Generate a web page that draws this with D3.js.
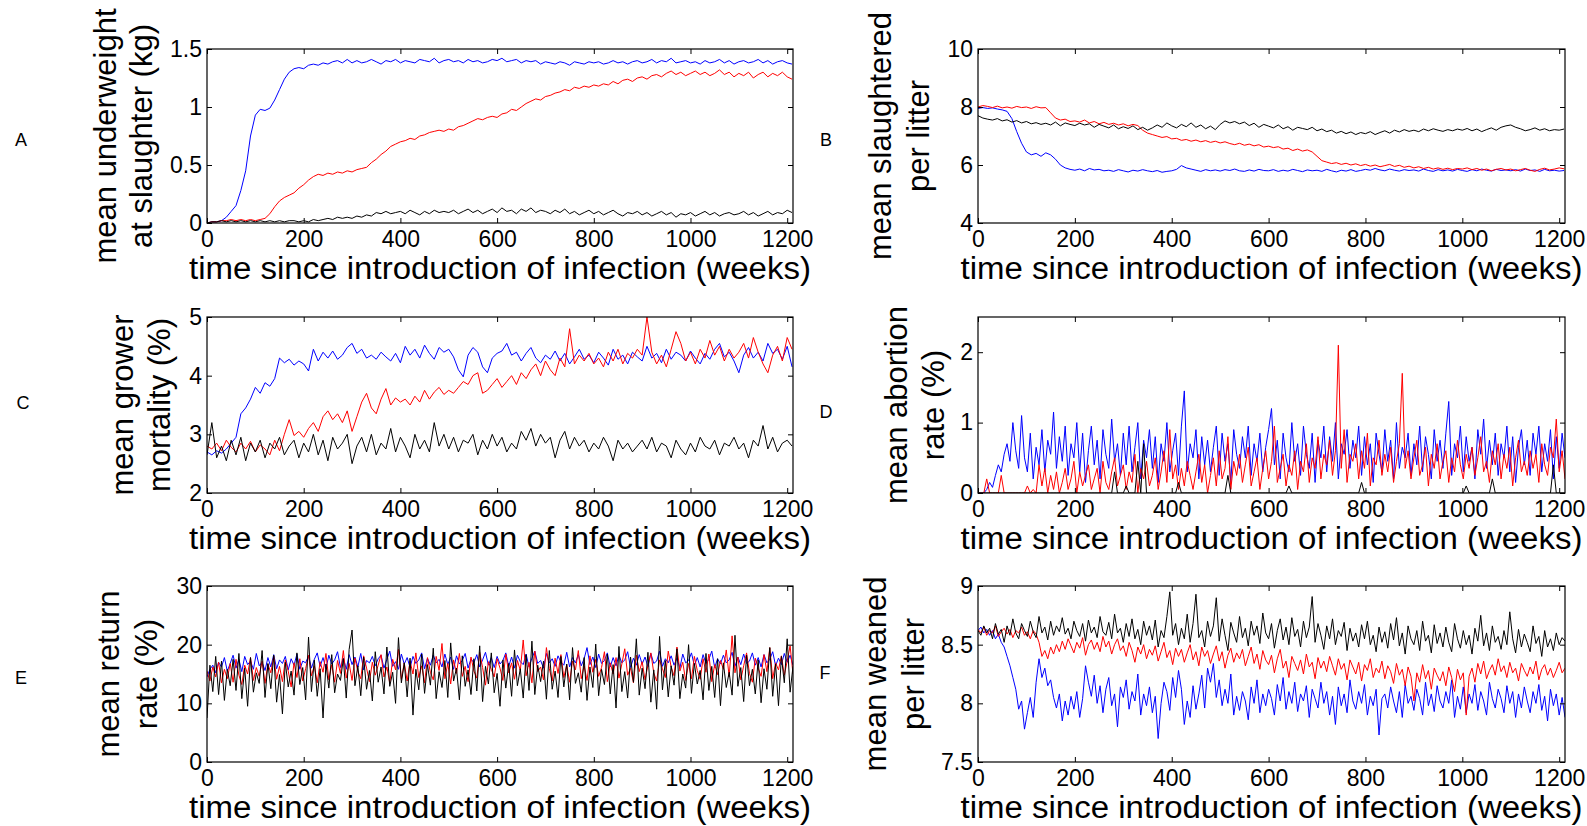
<!DOCTYPE html>
<html>
<head>
<meta charset="utf-8">
<script src="https://cdn.jsdelivr.net/npm/d3@7"></script>
<style>
  body { margin: 0; background: #fff; }
  text { font-family: "Liberation Sans", Arial, sans-serif; fill: #000; }
  .axis path { display: none; }
  .axis line { stroke: #000; stroke-width: 1; }
  .series { fill: none; stroke-width: 1; }
</style>
</head>
<body>
<div class="chart"></div>
<script>
// x axis shared by all panels (weeks)
var xMax = 1212;
var xTicks = [0, 200, 400, 600, 800, 1000, 1200];
var xLabel = "time since introduction of infection (weeks)";
var colors = ["#0000ff", "#ff0000", "#000000"];

// sample interval (weeks) of the typed series
var stepA = 10, stepB = 10, stepC = 10, stepD = 6, stepE = 6, stepF = 6;

// A: mean underweight at slaughter (kg)
var aBlue = [0.00,0.01,0.01,0.02,0.05,0.10,0.15,0.28,0.45,0.75,
  0.93,0.98,0.97,0.99,1.06,1.15,1.24,1.30,1.33,1.34,
  1.33,1.36,1.37,1.36,1.38,1.37,1.39,1.40,1.38,1.41,1.38,
  1.40,1.38,1.39,1.41,1.39,1.37,1.40,1.39,1.41,1.38,
  1.40,1.39,1.38,1.41,1.40,1.39,1.42,1.38,1.40,1.41,
  1.39,1.40,1.38,1.41,1.39,1.40,1.38,1.39,1.41,1.40,
  1.42,1.39,1.40,1.41,1.38,1.40,1.39,1.40,1.37,1.39,
  1.38,1.37,1.39,1.38,1.36,1.39,1.38,1.37,1.39,1.38,
  1.39,1.37,1.38,1.40,1.38,1.39,1.37,1.39,1.40,1.38,
  1.39,1.41,1.38,1.40,1.39,1.42,1.38,1.39,1.40,1.38,
  1.39,1.37,1.40,1.38,1.39,1.41,1.38,1.40,1.37,1.39,
  1.40,1.38,1.39,1.41,1.38,1.40,1.37,1.39,1.40,1.38,
  1.37];
var aRed = [0.00,0.01,0.01,0.02,0.02,0.03,0.02,0.03,0.02,0.03,
  0.02,0.03,0.04,0.08,0.14,0.19,0.22,0.24,0.26,0.30,
  0.33,0.37,0.40,0.42,0.41,0.43,0.42,0.44,0.43,0.45,
  0.44,0.46,0.47,0.48,0.52,0.55,0.59,0.62,0.66,0.68,
  0.70,0.71,0.73,0.72,0.75,0.76,0.78,0.79,0.80,0.79,
  0.81,0.80,0.83,0.84,0.86,0.88,0.90,0.89,0.91,0.92,
  0.91,0.94,0.95,0.98,0.97,1.00,1.03,1.05,1.07,1.06,
  1.09,1.10,1.12,1.13,1.15,1.14,1.17,1.16,1.18,1.17,
  1.19,1.18,1.20,1.19,1.22,1.20,1.23,1.24,1.22,1.25,
  1.26,1.24,1.27,1.28,1.26,1.29,1.31,1.28,1.30,1.27,
  1.29,1.31,1.28,1.30,1.27,1.29,1.32,1.28,1.30,1.26,
  1.29,1.27,1.30,1.25,1.28,1.30,1.26,1.29,1.27,1.30,
  1.26,1.24];
var aBlack = [0.00,0.01,0.01,0.02,0.01,0.02,0.01,0.02,0.01,0.02,
  0.01,0.02,0.01,0.02,0.01,0.02,0.01,0.02,0.02,0.01,
  0.02,0.01,0.03,0.02,0.03,0.04,0.03,0.05,0.04,0.05,
  0.04,0.06,0.05,0.07,0.06,0.09,0.08,0.10,0.08,0.09,
  0.10,0.08,0.11,0.09,0.07,0.10,0.08,0.11,0.09,0.10,
  0.09,0.11,0.08,0.10,0.12,0.09,0.11,0.08,0.10,0.12,
  0.09,0.13,0.10,0.11,0.08,0.12,0.10,0.13,0.09,0.11,
  0.10,0.08,0.11,0.09,0.12,0.08,0.10,0.07,0.09,0.11,
  0.08,0.10,0.07,0.09,0.11,0.08,0.06,0.09,0.08,0.10,
  0.07,0.09,0.06,0.08,0.10,0.07,0.09,0.05,0.08,0.07,
  0.09,0.06,0.08,0.10,0.07,0.09,0.06,0.08,0.09,0.07,
  0.08,0.10,0.07,0.09,0.06,0.08,0.10,0.07,0.09,0.08,
  0.11,0.09];

// B: mean slaughtered per litter
var bBlue = [7.95,7.98,7.95,7.97,7.93,7.90,7.85,7.60,7.15,6.75,
  6.45,6.35,6.40,6.30,6.42,6.35,6.20,6.00,5.90,5.85,
  5.82,5.86,5.80,5.88,5.83,5.85,5.80,5.82,5.78,5.84,
  5.80,5.76,5.82,5.79,5.84,5.80,5.77,5.81,5.75,5.78,
  5.80,5.85,5.98,5.90,5.86,5.82,5.78,5.84,5.80,5.83,
  5.79,5.84,5.81,5.86,5.80,5.78,5.83,5.79,5.85,5.81,
  5.80,5.84,5.78,5.82,5.79,5.85,5.81,5.77,5.83,5.80,
  5.82,5.78,5.85,5.80,5.76,5.82,5.79,5.84,5.78,5.81,
  5.85,5.82,5.88,5.83,5.80,5.86,5.82,5.79,5.84,5.81,
  5.83,5.79,5.86,5.81,5.78,5.84,5.80,5.83,5.79,5.85,
  5.81,5.78,5.84,5.80,5.86,5.82,5.79,5.85,5.81,5.83,
  5.80,5.84,5.79,5.86,5.81,5.83,5.78,5.85,5.80,5.82,
  5.79,5.81];
var bRed = [8.00,8.05,8.02,7.98,8.03,7.97,8.00,7.96,8.02,7.98,
  8.00,7.95,8.01,7.97,7.98,7.80,7.62,7.55,7.58,7.50,
  7.52,7.48,7.55,7.45,7.50,7.42,7.47,7.40,7.44,7.38,
  7.42,7.35,7.40,7.36,7.20,7.10,7.05,7.00,6.95,6.98,
  6.90,6.92,6.85,6.88,6.82,6.86,6.80,6.84,6.78,6.82,
  6.76,6.80,6.74,6.70,6.75,6.68,6.72,6.66,6.70,6.62,
  6.65,6.60,6.63,6.55,6.58,6.50,6.55,6.48,6.52,6.45,
  6.30,6.15,6.10,6.05,6.08,6.02,6.06,6.00,6.04,5.98,
  6.02,5.96,6.00,5.94,5.98,6.02,5.95,5.99,5.92,5.96,
  5.90,5.94,5.88,5.92,5.86,5.90,5.85,5.89,5.84,5.88,
  5.86,5.90,5.84,5.88,5.82,5.86,5.80,5.85,5.88,5.83,
  5.86,5.80,5.84,5.88,5.82,5.78,5.85,5.89,5.83,5.86,
  5.90,5.87];
var bBlack = [7.70,7.62,7.58,7.55,7.60,7.52,7.56,7.48,7.53,7.45,
  7.50,7.42,7.46,7.40,7.44,7.38,7.48,7.35,7.45,7.40,
  7.36,7.44,7.38,7.42,7.30,7.40,7.34,7.28,7.38,7.25,
  7.32,7.26,7.35,7.22,7.30,7.20,7.28,7.38,7.30,7.45,
  7.35,7.28,7.40,7.32,7.45,7.30,7.38,7.25,7.34,7.22,
  7.40,7.52,7.45,7.50,7.42,7.48,7.36,7.44,7.30,7.40,
  7.34,7.28,7.38,7.25,7.32,7.20,7.30,7.26,7.22,7.30,
  7.18,7.24,7.15,7.20,7.10,7.16,7.08,7.14,7.05,7.12,
  7.08,7.15,7.05,7.12,7.18,7.10,7.20,7.14,7.22,7.16,
  7.20,7.15,7.24,7.18,7.25,7.20,7.16,7.22,7.18,7.24,
  7.20,7.26,7.18,7.24,7.15,7.22,7.28,7.20,7.30,7.35,
  7.38,7.30,7.25,7.18,7.22,7.28,7.20,7.25,7.18,7.22,
  7.20,7.24];

// C: mean grower mortality (%)
var cBlue = [2.70,2.65,2.72,2.68,2.75,2.85,2.95,3.35,3.45,3.60,
  3.80,3.70,3.88,3.82,3.95,4.30,4.22,4.28,4.18,4.25,
  4.20,4.08,4.45,4.25,4.40,4.30,4.42,4.28,4.35,4.48,
  4.55,4.38,4.45,4.30,4.35,4.28,4.40,4.32,4.25,4.38,
  4.22,4.50,4.35,4.45,4.30,4.52,4.38,4.28,4.48,4.40,
  4.45,4.32,4.10,3.98,4.35,4.48,4.40,4.15,4.05,4.30,
  4.38,4.42,4.55,4.35,4.40,4.25,4.38,4.48,4.30,4.22,
  4.35,4.28,4.42,4.25,4.38,4.20,4.32,4.45,4.28,4.35,
  4.22,4.40,4.30,4.18,4.45,4.28,4.35,4.20,4.40,4.32,
  4.25,4.50,4.30,4.38,4.22,4.45,4.28,4.40,4.35,4.25,
  4.42,4.30,4.20,4.38,4.28,4.45,4.55,4.32,4.40,4.25,
  4.05,4.35,4.48,4.30,4.40,4.25,4.55,4.38,4.45,4.28,
  4.50,4.15];
var cRed = [2.80,2.75,2.85,2.72,2.90,2.78,2.70,2.85,2.75,2.88,
  2.70,2.82,2.75,2.65,2.90,2.72,3.00,3.25,2.98,3.05,
  2.95,3.10,3.20,3.05,3.30,3.40,3.25,3.35,3.20,3.40,
  3.05,3.30,3.55,3.70,3.45,3.35,3.60,3.78,3.50,3.62,
  3.55,3.60,3.50,3.65,3.55,3.75,3.60,3.72,3.80,3.68,
  3.75,3.70,3.80,3.90,3.85,4.00,4.05,3.70,3.75,3.85,
  3.95,3.80,3.90,4.00,3.85,4.05,3.95,4.10,4.20,4.00,
  4.25,4.10,4.00,4.30,4.15,4.80,4.20,4.35,4.25,4.38,
  4.20,4.30,4.15,4.40,4.25,4.45,4.20,4.38,4.30,4.45,
  4.35,5.00,4.40,4.20,4.35,4.15,4.45,4.75,4.55,4.25,
  4.40,4.20,4.45,4.30,4.60,4.35,4.50,4.25,4.45,4.30,
  4.40,4.55,4.30,4.65,4.40,4.20,4.05,4.35,4.50,4.25,
  4.65,4.45];
var cBlack = [2.65,3.20,2.60,2.80,2.55,2.90,2.65,2.95,2.55,2.85,
  2.70,2.90,2.60,2.85,2.75,2.95,2.65,2.80,2.90,2.60,
  2.85,2.70,3.00,2.65,2.90,2.55,2.95,2.75,2.85,3.00,
  2.50,2.80,2.95,2.70,3.00,2.65,2.85,2.75,3.10,2.70,
  2.95,2.80,2.60,3.00,2.75,2.90,2.70,3.20,2.80,3.00,
  2.75,2.95,2.70,2.90,2.85,3.00,2.65,2.90,2.75,3.00,
  2.80,2.95,2.70,2.85,2.75,3.05,2.90,3.10,2.80,3.00,
  2.85,2.95,2.60,2.90,3.05,2.75,2.95,2.80,2.90,2.70,
  2.85,2.75,2.95,2.80,2.55,2.90,2.75,2.85,2.70,2.80,
  2.90,2.75,2.95,2.70,2.85,2.80,2.60,2.90,2.75,2.65,
  2.85,2.70,2.95,2.80,2.75,2.90,2.65,2.85,2.80,2.95,
  2.75,2.85,2.60,2.90,2.80,3.15,2.75,2.95,2.70,2.85,
  2.90,2.80];

// D: mean abortion rate (%)
var dBlue = [0,0,0,0.05,0.15,0.08,0.25,0.40,0.30,0.55,
  0.70,0.45,1.00,0.60,0.35,1.10,0.50,0.30,0.85,0.20,
  0.65,0.40,0.90,0.30,0.75,0.55,1.15,0.35,0.80,0.45,
  0.95,0.25,0.70,0.50,1.00,0.30,0.85,0.15,0.60,0.95,
  0.40,0.75,0.20,0.90,0.55,0.35,1.05,0.45,0.70,0.25,
  0.85,0.40,0.95,0.30,0.65,1.00,0.20,0.75,0.50,0.90,
  0.35,0.80,0.15,0.70,0.45,1.00,0.30,0.60,0.85,0.25,
  0.95,1.45,0.30,0.70,0.50,0.90,0.20,0.80,0.40,0.75,
  0.30,0.65,0.95,0.25,0.85,0.45,0.70,0.15,0.90,0.55,
  0.35,0.80,0.50,0.95,0.25,0.70,0.45,0.85,0.30,0.65,
  0.90,1.20,0.40,0.75,0.20,0.85,0.50,0.30,1.00,0.45,
  0.70,0.25,0.95,0.55,0.35,0.85,0.15,0.75,0.50,0.95,
  0.30,0.80,0.45,1.00,0.20,0.70,0.55,0.90,0.35,0.75,
  0.50,0.95,0.25,0.80,0.40,0.70,0.15,0.85,0.55,0.30,
  0.90,0.45,0.75,0.20,1.00,0.35,0.65,0.50,0.85,0.25,
  0.70,0.40,0.95,0.30,0.80,0.55,0.20,0.90,0.45,0.75,
  0.35,0.85,1.30,0.25,0.70,0.50,0.95,0.30,0.80,0.45,
  0.65,0.20,0.90,0.55,1.05,0.35,0.75,0.40,0.85,0.25,
  0.70,0.50,0.95,0.30,0.80,0.15,0.65,0.90,0.40,0.75,
  0.25,0.85,0.55,0.95,0.30,0.70,0.45,0.90,0.20,0.80,
  0.35,0.85,0.50];
var dRed = [0,0,0,0.20,0,0,0,0,0.25,0,
  0,0,0,0,0,0,0,0.10,0,0.05,
  0,0.40,0.10,0.35,0,0.25,0.05,0.30,0,0.15,
  0.35,0.05,0.20,0.45,0,0.30,0.10,0.25,0.40,0.05,
  0.20,0.35,0,0.45,0.15,0.05,0.30,0.50,0.10,0.25,
  0.40,0.05,0.30,0.15,0.55,0,0.35,0.20,0.45,0.10,
  0.25,0.50,0.05,0.30,0.60,0.15,0.90,0.20,0.40,0.05,
  0.35,0.10,0.45,0.25,0.05,0.30,0.55,0.15,0.40,0,
  0.25,0.50,0.10,0.60,0.20,0.35,0.80,0.05,0.45,0.25,
  0.55,0.15,0.40,0.65,0.10,0.30,0.50,0.05,0.35,0.60,
  0.20,0.45,0.95,0.15,0.35,0.55,0.10,0.40,0.25,0.60,
  0.05,0.45,0.30,0.70,0.15,0.50,0.35,0.80,0.20,0.55,
  0.40,0.75,0.25,0.60,2.10,0.35,0.90,0.15,0.55,0.45,
  0.70,0.20,0.60,0.35,0.85,0.10,0.50,0.40,0.75,0.25,
  0.55,0.30,0.65,0.15,0.45,0.70,1.70,0.35,0.60,0.20,
  0.50,0.75,0.25,0.40,0.65,0.10,0.55,0.35,0.70,0.20,
  0.45,0.60,0.15,0.50,0.30,0.75,0.40,0.20,0.55,0.35,
  0.65,0.25,0.50,0.80,0.30,0.45,0.15,0.60,0.40,0.70,
  0.20,0.55,0.35,0.65,0.10,0.50,0.75,0.30,0.45,0.25,
  0.60,0.35,0.55,0.15,0.70,0.40,0.25,0.65,0.50,1.05,
  0.30,0.60,0.20];
var dBlack = [0,0,0,0,0,0,0,0,0,0,
  0,0,0,0,0,0,0,0,0,0,
  0,0,0,0,0,0,0,0,0,0,
  0,0,0,0,0,0,0,0,0,0,
  0,0,0,0,0,0,0,0.30,0,0,
  0,0.10,0,0,0,0.45,0,0.70,0,0,
  0,0,0,0,0,0,0,0,0,0.15,
  0,0,0,0,0,0,0,0,0,0,
  0,0,0,0,0,0,0.25,0,0,0,
  0,0,0,0,0,0,0,0,0,0,
  0,0,0,0,0,0,0,0.10,0,0,
  0,0,0,0,0,0,0,0,0,0,
  0,0,0,0,0,0,0,0,0,0,
  0,0,0.15,0,0,0,0,0,0,0,
  0,0,0,0,0,0,0,0,0,0,
  0,0,0,0,0,0,0,0,0,0,
  0,0,0,0,0,0,0,0,0.10,0,
  0,0,0,0,0,0,0,0.20,0,0,
  0,0,0,0,0,0,0,0,0,0,
  0,0,0,0,0,0,0,0,0.40,0,
  0,0,0];

// E: mean return rate (%)
var eBlue = [14.5,15.8,16.5,15.2,17.0,16.2,17.8,15.5,16.8,18.2,
  16.0,17.5,15.4,18.0,16.6,17.2,15.8,18.5,16.4,17.0,
  15.6,17.8,16.2,18.3,15.9,17.4,16.8,18.0,15.7,17.6,
  16.5,18.4,15.8,17.2,16.9,18.1,16.0,17.5,18.6,16.3,
  17.8,15.9,18.2,16.7,17.4,18.8,16.1,17.7,15.8,18.3,
  16.6,17.9,16.2,18.5,15.7,17.3,16.9,18.0,16.4,17.6,
  18.2,16.0,17.5,18.9,16.3,17.1,15.8,18.4,16.7,17.8,
  16.1,18.0,16.8,17.4,18.6,15.9,17.7,16.5,18.2,16.9,
  17.5,16.2,18.4,16.6,17.9,15.8,18.1,16.7,17.3,18.5,
  16.0,17.6,16.9,18.3,16.2,17.4,18.7,16.5,17.8,16.1,
  18.0,16.7,17.3,18.6,16.3,17.9,16.0,18.2,17.1,16.6,
  18.4,16.2,17.7,18.9,16.8,17.3,16.0,18.5,16.9,17.6,
  16.3,18.1,17.0,16.5,18.7,16.2,17.8,16.9,18.3,16.4,
  17.6,19.5,16.6,17.9,16.1,18.4,16.8,17.3,18.6,16.2,
  17.8,16.4,18.2,16.9,17.4,18.8,16.1,17.7,16.5,18.3,
  16.7,17.9,16.2,18.5,16.8,17.2,18.9,16.3,17.6,16.9,
  18.1,16.5,17.7,16.0,18.4,16.9,17.3,18.6,16.4,17.8,
  16.2,18.3,16.8,17.5,18.9,16.1,17.6,16.7,18.2,16.9,
  17.4,18.7,16.3,17.9,16.6,18.4,16.8,17.2,18.6,16.5,
  17.8,16.2,18.3,16.9,17.5,18.8,16.4,17.7,16.6,18.5,
  17.0,18.2,16.5];
var eRed = [15.5,13.8,16.2,14.5,17.0,13.5,15.8,14.2,16.8,13.6,
  17.5,14.8,13.2,16.5,15.0,17.8,13.9,16.1,14.6,17.2,
  13.4,16.7,15.2,18.0,14.1,16.3,13.7,17.4,15.5,12.8,
  16.9,14.4,17.6,13.8,15.9,18.2,14.7,16.4,13.5,17.1,
  15.3,18.5,14.0,16.6,13.6,17.3,15.1,19.0,14.3,16.8,
  13.9,17.7,15.4,14.2,18.1,16.0,13.7,17.0,14.8,16.5,
  18.3,14.5,16.2,13.4,17.5,15.7,19.2,14.1,16.9,13.8,
  17.2,15.0,18.6,14.4,16.4,13.5,17.8,15.3,14.0,18.0,
  15.6,20.2,14.2,16.8,13.3,17.4,15.1,18.5,14.6,16.3,
  13.7,17.9,15.5,14.3,18.7,16.1,13.1,17.1,15.8,14.5,
  17.6,16.0,13.9,18.4,15.2,16.9,14.1,17.3,15.6,20.8,
  14.7,17.0,13.5,18.9,15.4,16.2,14.0,19.5,15.9,13.8,
  17.7,15.1,18.3,14.4,16.6,13.6,17.2,15.7,19.0,14.2,
  16.4,13.9,18.1,15.3,17.5,14.6,16.1,18.8,13.7,16.9,
  15.0,17.8,14.3,16.7,19.3,14.8,16.0,13.5,18.2,15.4,
  17.1,14.0,16.5,18.6,15.2,13.8,17.4,15.9,14.4,18.9,
  16.2,14.7,19.6,15.5,17.0,13.9,16.8,14.2,18.0,15.6,
  14.1,17.6,15.3,18.4,13.7,16.6,14.9,17.3,15.8,19.1,
  14.5,21.5,15.2,17.9,14.0,16.4,18.6,15.1,13.6,17.7,
  16.0,14.6,18.3,15.4,19.5,14.2,16.9,15.7,18.1,14.8,
  17.2,19.8,15.0];
var eBlack = [7.5,16.5,12.0,18.0,11.5,17.2,10.5,15.8,13.0,17.5,
  12.2,18.5,10.8,16.0,9.5,17.8,11.9,15.2,13.4,19.0,
  11.0,16.8,12.5,18.2,10.2,14.9,8.2,17.0,12.8,15.5,
  11.4,18.6,13.2,16.1,10.6,21.3,12.0,17.4,11.2,15.9,
  7.5,16.7,12.6,18.3,11.8,15.0,13.9,17.6,10.9,19.2,
  22.5,13.0,16.4,11.3,17.9,12.4,15.6,10.4,18.8,13.6,
  16.2,11.6,19.6,12.9,15.3,10.0,21.2,13.5,16.9,11.1,
  17.7,8.0,15.8,12.3,18.4,11.7,16.6,13.1,19.4,10.8,
  15.4,12.7,17.3,11.0,20.3,13.8,16.0,10.6,18.1,12.9,
  15.7,11.5,17.6,12.1,19.8,10.3,16.3,13.3,18.6,11.8,
  15.1,9.5,17.4,12.6,16.8,11.2,19.1,13.0,15.9,10.9,
  18.3,12.2,20.6,11.5,16.5,13.7,17.2,10.7,19.0,12.4,
  15.5,11.0,18.0,12.8,16.7,10.6,19.5,13.4,15.2,11.9,
  17.8,10.5,16.2,12.7,20.1,11.3,15.8,13.2,18.4,11.6,
  16.6,9.2,19.7,12.0,15.4,10.9,17.9,13.6,21.0,11.4,
  16.0,12.5,18.7,10.2,15.7,9.0,21.4,12.3,17.3,11.1,
  16.4,13.1,19.3,10.8,15.0,12.6,20.0,11.7,16.8,13.3,
  15.6,10.6,18.5,12.2,16.3,11.0,17.6,9.6,16.9,12.7,
  15.3,11.4,21.6,12.9,16.1,10.3,18.2,13.0,15.8,11.6,
  17.4,10.1,15.9,12.4,19.5,11.2,16.7,9.6,18.0,13.5,
  21.0,11.9,16.3];

// F: mean weaned per litter
var fBlue = [8.62,8.65,8.60,8.63,8.58,8.62,8.55,8.59,8.52,8.48,
  8.40,8.32,8.22,8.12,7.95,8.02,7.78,7.92,8.05,7.88,
  8.18,8.38,8.22,8.30,8.15,8.20,8.05,7.96,8.08,7.85,
  8.02,7.90,8.06,7.95,8.10,7.88,8.04,8.32,8.18,8.06,
  8.24,8.00,8.15,7.92,8.12,8.22,7.98,8.08,7.80,8.14,
  8.05,8.20,7.95,8.10,8.02,8.25,7.90,8.08,7.98,8.14,
  7.92,8.06,7.70,8.00,8.18,8.10,7.94,8.22,8.05,8.28,
  8.12,7.82,8.02,7.88,8.15,7.95,8.08,8.24,7.96,8.30,
  8.18,8.34,8.05,8.20,7.98,8.12,8.00,8.25,7.90,8.06,
  7.94,8.10,8.02,7.86,8.14,8.00,8.20,7.92,8.08,7.98,
  8.12,8.04,7.90,8.16,8.02,8.22,7.95,8.10,8.00,8.18,
  7.93,8.08,8.02,8.15,7.88,8.12,8.04,7.96,8.18,8.00,
  8.10,7.90,8.06,7.82,8.14,7.98,8.08,7.92,8.20,8.02,
  7.95,8.10,8.00,8.16,7.90,8.06,7.98,8.12,7.73,8.04,
  8.08,7.96,8.14,8.02,7.92,8.10,7.88,8.16,8.00,8.06,
  7.94,8.12,8.04,7.90,8.18,7.98,8.08,7.93,8.15,8.02,
  7.96,8.10,8.00,8.20,7.88,8.06,7.95,8.14,7.92,8.08,
  8.00,8.16,7.94,8.10,8.02,7.90,8.18,8.04,7.96,8.12,
  8.04,7.92,8.15,8.00,8.10,7.88,8.08,7.96,8.14,8.02,
  7.92,8.10,8.00,8.16,7.94,8.06,7.85,8.12,7.98,8.08,
  7.90,8.05,7.88];
var fRed = [8.63,8.60,8.65,8.58,8.62,8.60,8.66,8.57,8.61,8.64,
  8.59,8.63,8.56,8.62,8.60,8.65,8.58,8.61,8.55,8.62,
  8.59,8.52,8.40,8.45,8.38,8.48,8.42,8.50,8.44,8.53,
  8.46,8.55,8.49,8.43,8.52,8.47,8.56,8.41,8.50,8.54,
  8.46,8.52,8.44,8.57,8.48,8.53,8.42,8.50,8.55,8.45,
  8.49,8.40,8.52,8.45,8.35,8.48,8.42,8.50,8.38,8.46,
  8.41,8.49,8.36,8.44,8.52,8.39,8.45,8.33,8.47,8.40,
  8.46,8.35,8.43,8.50,8.37,8.44,8.32,8.48,8.40,8.45,
  8.34,8.42,8.49,8.36,8.44,8.30,8.41,8.47,8.35,8.43,
  8.38,8.46,8.32,8.40,8.48,8.34,8.42,8.29,8.45,8.37,
  8.33,8.41,8.26,8.38,8.46,8.30,8.36,8.22,8.40,8.34,
  8.28,8.37,8.25,8.42,8.31,8.35,8.21,8.39,8.30,8.36,
  8.27,8.40,8.32,8.24,8.38,8.29,8.34,8.20,8.37,8.31,
  8.25,8.35,8.19,8.33,8.28,8.38,8.22,8.30,8.26,8.36,
  8.21,8.32,8.27,8.17,8.34,8.24,8.29,8.15,8.31,8.23,
  8.02,8.26,8.18,8.33,8.21,8.28,8.12,8.30,8.24,8.19,
  8.27,8.15,8.31,8.22,8.10,8.29,8.20,8.26,7.90,8.23,
  8.30,8.18,8.34,8.25,8.36,8.21,8.28,8.33,8.24,8.38,
  8.27,8.32,8.22,8.35,8.26,8.30,8.19,8.34,8.28,8.23,
  8.31,8.25,8.36,8.20,8.29,8.33,8.24,8.30,8.22,8.28,
  8.35,8.26,8.30];
var fBlack = [8.62,8.58,8.66,8.60,8.64,8.55,8.68,8.59,8.63,8.52,
  8.66,8.58,8.72,8.60,8.55,8.68,8.62,8.57,8.70,8.61,
  8.56,8.74,8.60,8.65,8.54,8.70,8.58,8.66,8.61,8.73,
  8.59,8.64,8.55,8.70,8.62,8.57,8.68,8.53,8.71,8.60,
  8.65,8.56,8.74,8.61,8.58,8.69,8.55,8.76,8.60,8.64,
  8.52,8.68,8.57,8.72,8.55,8.63,8.50,8.70,8.58,8.66,
  8.54,8.71,8.48,8.62,8.56,8.74,8.95,8.58,8.68,8.50,
  8.64,8.55,8.76,8.52,8.68,8.93,8.56,8.62,8.48,8.70,
  8.57,8.66,8.90,8.53,8.72,8.58,8.45,8.69,8.60,8.52,
  8.74,8.56,8.64,8.49,8.70,8.58,8.66,8.51,8.77,8.60,
  8.55,8.68,8.47,8.62,8.72,8.54,8.65,8.50,8.73,8.57,
  8.63,8.48,8.70,8.56,8.65,8.91,8.52,8.68,8.58,8.46,
  8.66,8.55,8.72,8.50,8.62,8.57,8.69,8.45,8.64,8.53,
  8.60,8.48,8.67,8.55,8.70,8.50,8.58,8.44,8.65,8.52,
  8.61,8.47,8.68,8.54,8.73,8.49,8.60,8.42,8.66,8.55,
  8.50,8.62,8.45,8.70,8.53,8.58,8.43,8.67,8.51,8.60,
  8.48,8.65,8.52,8.44,8.68,8.55,8.47,8.62,8.50,8.58,
  8.42,8.64,8.53,8.75,8.49,8.60,8.45,8.66,8.52,8.57,
  8.46,8.62,8.50,8.78,8.55,8.43,8.63,8.48,8.59,8.52,
  8.44,8.66,8.51,8.57,8.40,8.62,8.48,8.55,8.45,8.60,
  8.50,8.56,8.53];

// layout: plot boxes [left, top, right, bottom] and y label baselines
var panels = [
  {tag: "A", box: [207, 49, 793, 223], tagPos: [21, 140], yDomain: [0, 1.5], yTicks: [0, 0.5, 1, 1.5],
   yLabel: ["mean underweight", "at slaughter (kg)"], yLabelX: [116, 152], step: stepA, series: [aBlue, aRed, aBlack]},
  {tag: "B", box: [978, 49, 1565, 223], tagPos: [826, 140], yDomain: [4, 10], yTicks: [4, 6, 8, 10],
   yLabel: ["mean slaughtered", "per litter"], yLabelX: [891, 929], step: stepB, series: [bBlue, bRed, bBlack]},
  {tag: "C", box: [207, 317, 793, 493], tagPos: [23, 403], yDomain: [2, 5], yTicks: [2, 3, 4, 5],
   yLabel: ["mean grower", "mortality (%)"], yLabelX: [133, 170], step: stepC, series: [cBlue, cRed, cBlack]},
  {tag: "D", box: [978, 317, 1565, 493], tagPos: [826, 412], yDomain: [0, 2.5], yTicks: [0, 1, 2],
   yLabel: ["mean abortion", "rate (%)"], yLabelX: [907, 944], step: stepD, series: [dBlue, dRed, dBlack]},
  {tag: "E", box: [207, 586, 793, 762], tagPos: [21, 678], yDomain: [0, 30], yTicks: [0, 10, 20, 30],
   yLabel: ["mean return", "rate (%)"], yLabelX: [119, 157], step: stepE, series: [eBlue, eRed, eBlack]},
  {tag: "F", box: [978, 586, 1565, 762], tagPos: [825, 673], yDomain: [7.5, 9], yTicks: [7.5, 8, 8.5, 9],
   yLabel: ["mean weaned", "per litter"], yLabelX: [886, 924], step: stepF, series: [fBlue, fRed, fBlack]}
];

var svg = d3.select(".chart")
    .append("svg")
    .attr("width", 1587)
    .attr("height", 826);

svg.append("rect").attr("width", 1587).attr("height", 826).attr("fill", "#fff");

panels.forEach(function(p, k) {
    var width = p.box[2] - p.box[0],
        height = p.box[3] - p.box[1];

    var x = d3.scaleLinear().domain([0, xMax]).range([0, width]);
    var y = d3.scaleLinear().domain(p.yDomain).range([height, 0]);

    var g = svg.append("g")
        .attr("transform", "translate(" + p.box[0] + "," + p.box[1] + ")");

    g.append("clipPath").attr("id", "clip" + k)
      .append("rect").attr("width", width).attr("height", height);

    var line = d3.line()
        .x(function(d, i) { return x(i * p.step); })
        .y(function(d) { return y(d); });

    // blue first, then red, black on top
    p.series.forEach(function(s, j) {
        g.append("path").attr("class", "series")
            .attr("clip-path", "url(#clip" + k + ")")
            .attr("stroke", colors[j])
            .attr("d", line(s));
    });

    // inward ticks on all four sides
    g.append("g").attr("class", "axis")
        .attr("transform", "translate(0," + height + ")")
        .call(d3.axisBottom(x).tickValues(xTicks).tickSize(-5).tickPadding(8).tickFormat(d3.format("d")))
        .selectAll("text").style("font-size", "23px");
    g.append("g").attr("class", "axis")
        .call(d3.axisTop(x).tickValues(xTicks).tickSize(-5).tickFormat(""));
    g.append("g").attr("class", "axis")
        .call(d3.axisLeft(y).tickValues(p.yTicks).tickSize(-5).tickPadding(5).tickFormat(d3.format("")))
        .selectAll("text").style("font-size", "23px");
    g.append("g").attr("class", "axis")
        .attr("transform", "translate(" + width + ",0)")
        .call(d3.axisRight(y).tickValues(p.yTicks).tickSize(-5).tickFormat(""));

    g.append("rect")
        .attr("width", width).attr("height", height)
        .attr("fill", "none").attr("stroke", "#000").attr("stroke-width", 1.2);

    // x label
    g.append("text")
        .attr("x", width / 2).attr("y", height + 56)
        .attr("text-anchor", "middle")
        .attr("textLength", 622).attr("lengthAdjust", "spacingAndGlyphs")
        .style("font-size", "31px")
        .text(xLabel);

    // two-line y label
    var cy = (p.box[1] + p.box[3]) / 2;
    p.yLabel.forEach(function(t, j) {
        svg.append("text")
            .attr("transform", "translate(" + p.yLabelX[j] + "," + cy + ") rotate(-90)")
            .attr("text-anchor", "middle")
            .style("font-size", "31px")
            .text(t);
    });

    // panel letter
    svg.append("text")
        .attr("x", p.tagPos[0]).attr("y", p.tagPos[1] + 6)
        .attr("text-anchor", "middle")
        .style("font-size", "18px")
        .text(p.tag);
});
</script>
</body>
</html>
